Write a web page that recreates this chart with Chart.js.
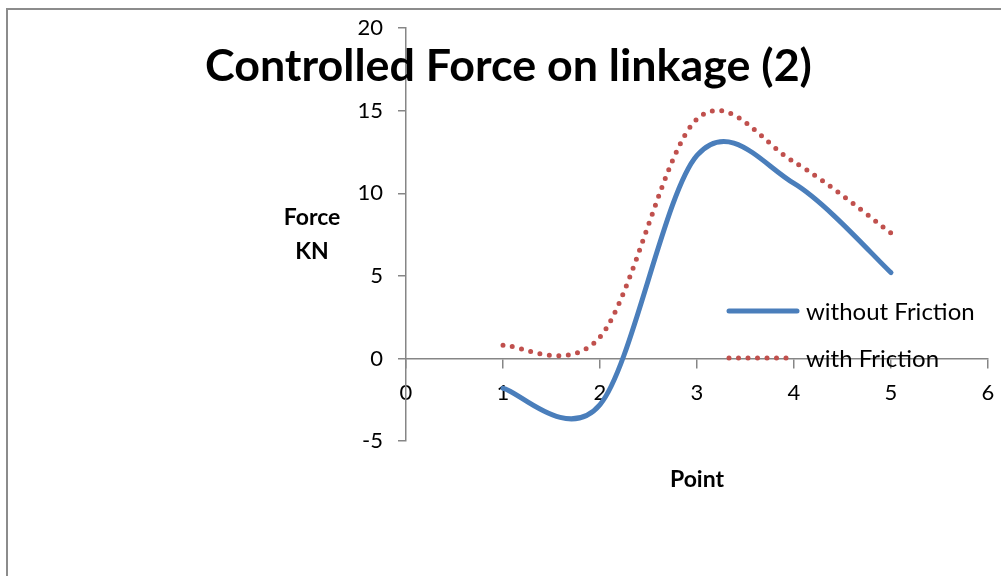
<!DOCTYPE html>
<html lang="en">
<head>
  <meta charset="UTF-8">
  <title>Controlled Force on linkage (2)</title>
  <style>
    * { margin: 0; padding: 0; box-sizing: border-box; }
    body { background: #fff; width: 1001px; height: 576px; overflow: hidden; }
    /* chart frame: only left and top edges show in the original */
    .frame {
      position: absolute; left: 6px; top: 8px; width: 995px; height: 568px;
      border-left: 2px solid #8c8c8c; border-top: 2px solid #8c8c8c;
    }
    canvas { position: absolute; left: 0; top: 0; }
  </style>
  <script src="https://cdn.jsdelivr.net/npm/chart.js"></script>
</head>
<body>
  <div class="frame"></div>
  <canvas id="forceChart" width="1001" height="576"></canvas>

  <script>
    // values
    const points = [1, 2, 3, 4, 5];
    const withoutFriction = [-1.8, -2.8, 12.3, 10.6, 5.2];
    const withFriction = [0.8, 1.3, 14.5, 11.9, 7.6];
    const seriesNames = ['without Friction', 'with Friction'];

    const FONT = 'Lato, "Open Sans", sans-serif';
    const AXIS_GREY = '#868686';

    const toXY = (xs, ys) => xs.map((x, i) => ({ x: x, y: ys[i] }));

    function fitFont(ctx, text, weight, base, width) {
      ctx.font = weight + ' ' + base + 'px ' + FONT;
      const w = ctx.measureText(text).width;
      return base * width / w;
    }

    // Excel smooths with a plain Catmull-Rom curve; swap Chart.js' own
    // control points for that before the line is drawn
    const excelSmooth = {
      id: 'excelSmooth',
      beforeDatasetDraw(chart, args) {
        const meta = args.meta;
        const line = meta.dataset;
        if (!line || !line.updateControlPoints) return;
        line.updateControlPoints(chart.chartArea, meta.iScale.axis);
        const pts = meta.data;
        pts.forEach((p, i) => {
          const prev = pts[i - 1] || p;
          const next = pts[i + 1] || p;
          const dx = (next.x - prev.x) / 6;
          const dy = (next.y - prev.y) / 6;
          p.cp1x = p.x - dx; p.cp1y = p.y - dy;
          p.cp2x = p.x + dx; p.cp2y = p.y + dy;
        });
        line._path = undefined;
      }
    };

    // title, axis titles and legend are drawn by hand, like Excel places them
    const overlayPlugin = {
      id: 'overlay',
      afterDraw(chart) {
        const ctx = chart.ctx;
        ctx.save();
        ctx.fillStyle = '#000';

        // title
        const title = 'Controlled Force on linkage (2)';
        const ts = fitFont(ctx, title, 'bold', 38, 607);
        ctx.font = 'bold ' + ts + 'px ' + FONT;
        ctx.textAlign = 'left';
        ctx.textBaseline = 'alphabetic';
        ctx.fillText(title, 205, 81);

        // axis titles
        ctx.font = 'bold 23px ' + FONT;
        ctx.textAlign = 'center';
        ctx.textBaseline = 'middle';
        ctx.fillText('Force', 312, 218);
        ctx.fillText('KN', 312, 252);
        ctx.fillText('Point', 697, 480);

        // legend
        const ds = chart.data.datasets;
        const rows = [311, 358];
        ds.forEach((d, i) => {
          const y = rows[i];
          ctx.beginPath();
          ctx.strokeStyle = d.borderColor;
          ctx.lineWidth = d.borderWidth;
          ctx.lineCap = 'round';
          ctx.setLineDash(d.borderDash || []);
          ctx.moveTo(729, y);
          ctx.lineTo(i === 0 ? 797 : 790, y);
          ctx.stroke();
          ctx.setLineDash([]);
          ctx.font = '24px ' + FONT;
          ctx.textAlign = 'left';
          ctx.textBaseline = 'middle';
          ctx.fillText(d.label, 806, y + 1);
        });
        ctx.restore();
      }
    };

    const ctx = document.getElementById('forceChart').getContext('2d');
    new Chart(ctx, {
      type: 'scatter',
      data: {
        datasets: [{
          label: seriesNames[0],
          data: toXY(points, withoutFriction),
          showLine: true,
          borderColor: '#4A7EBB',
          borderWidth: 5,
          borderCapStyle: 'round',
          tension: 0.4,
          pointRadius: 0
        }, {
          label: seriesNames[1],
          data: toXY(points, withFriction),
          showLine: true,
          borderColor: '#C0504D',
          borderWidth: 5,
          borderCapStyle: 'round',
          borderDash: [0, 9.5],
          tension: 0.4,
          pointRadius: 0
        }]
      },
      options: {
        responsive: false,
        animation: false,
        layout: { padding: { left: 0, top: 25, right: 13, bottom: 135 } },
        plugins: {
          legend: { display: false },
          title: { display: false },
          tooltip: { enabled: false }
        },
        scales: {
          x: {
            type: 'linear',
            position: { y: 0 },
            min: 0, max: 6,
            ticks: { stepSize: 1, color: '#000', font: { family: FONT, size: 22 }, padding: 12, maxRotation: 0 },
            grid: { drawOnChartArea: false, drawTicks: true, tickLength: 9, color: AXIS_GREY, lineWidth: 1.5 },
            border: { color: AXIS_GREY, width: 1.5 },
            afterFit(scale) {
              scale.height = 0;
              scale.paddingLeft = 0;
              scale.paddingRight = 0;
            }
          },
          y: {
            min: -5, max: 20,
            ticks: { stepSize: 5, color: '#000', font: { family: FONT, size: 22 }, padding: 15 },
            grid: { drawOnChartArea: false, drawTicks: true, tickLength: 8, color: AXIS_GREY, lineWidth: 1.5 },
            border: { color: AXIS_GREY, width: 1.5 },
            afterFit(scale) { scale.width = 406; }
          }
        }
      },
      plugins: [excelSmooth, overlayPlugin]
    });
  </script>
</body>
</html>
